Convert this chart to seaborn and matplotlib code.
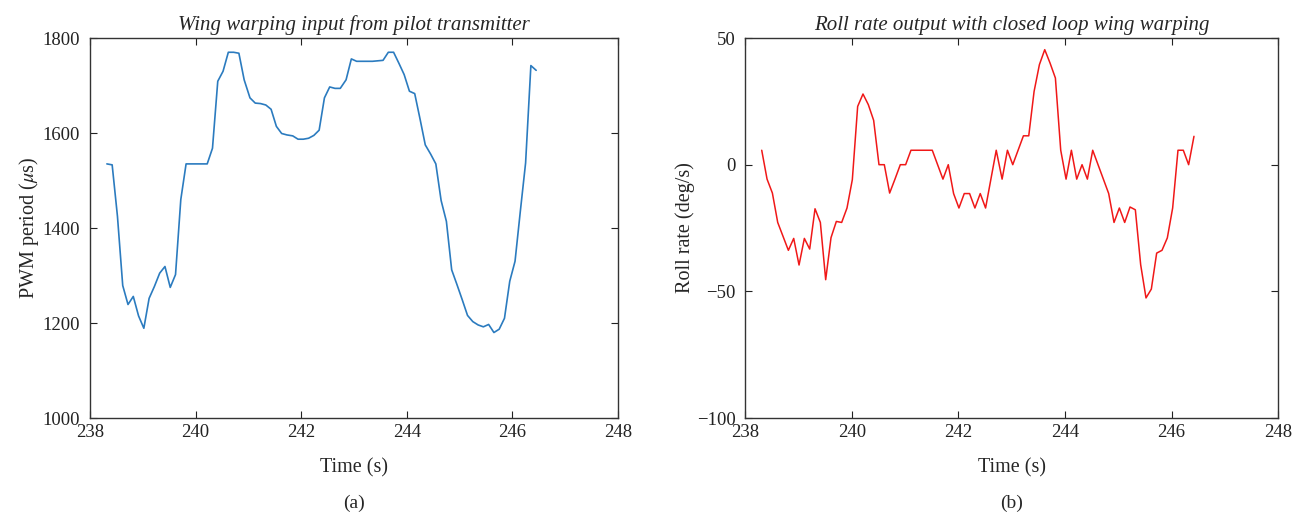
import matplotlib
matplotlib.use("Agg")
import matplotlib.pyplot as plt
import seaborn as sns
import pandas as pd

# Wing warping input (left panel)
time_a = [238.32, 238.42, 238.52, 238.62, 238.72, 238.82, 238.92, 239.02, 239.12, 239.22,
          239.32, 239.42, 239.52, 239.62, 239.72, 239.82, 239.92, 240.02, 240.12, 240.22,
          240.32, 240.42, 240.52, 240.62, 240.72, 240.82, 240.92, 241.03, 241.13, 241.23,
          241.33, 241.43, 241.53, 241.63, 241.73, 241.84, 241.94, 242.04, 242.14, 242.24,
          242.34, 242.44, 242.54, 242.64, 242.74, 242.85, 242.95, 243.05, 243.15, 243.25,
          243.35, 243.45, 243.55, 243.65, 243.75, 243.85, 243.95, 244.05, 244.15, 244.25,
          244.35, 244.45, 244.55, 244.65, 244.75, 244.85, 244.95, 245.05, 245.15, 245.25,
          245.35, 245.45, 245.55, 245.65, 245.75, 245.85, 245.95, 246.05, 246.15, 246.25,
          246.35, 246.45]
pwm = [1535, 1533, 1425, 1279, 1239, 1256, 1215, 1189, 1252, 1277,
       1305, 1319, 1275, 1302, 1460, 1535, 1535, 1535, 1535, 1535,
       1568, 1709, 1730, 1770, 1770, 1768, 1712, 1674, 1663, 1662,
       1659, 1650, 1614, 1599, 1596, 1594, 1587, 1587, 1589, 1595,
       1606, 1674, 1697, 1694, 1694, 1712, 1756, 1751, 1751, 1751,
       1751, 1752, 1753, 1770, 1770, 1747, 1723, 1688, 1683, 1630,
       1575, 1556, 1535, 1458, 1414, 1312, 1281, 1249, 1216, 1203,
       1196, 1192, 1197, 1180, 1187, 1210, 1288, 1330, 1435, 1537,
       1742, 1732]

# Roll rate output (right panel)
time_b = [238.31, 238.41, 238.51, 238.61, 238.71, 238.81, 238.91, 239.01, 239.11, 239.21,
          239.31, 239.41, 239.51, 239.61, 239.71, 239.81, 239.91, 240.01, 240.11, 240.21,
          240.31, 240.41, 240.51, 240.61, 240.71, 240.81, 240.91, 241.01, 241.11, 241.21,
          241.31, 241.41, 241.51, 241.61, 241.71, 241.81, 241.91, 242.01, 242.11, 242.21,
          242.31, 242.41, 242.51, 242.61, 242.71, 242.82, 242.92, 243.02, 243.12, 243.22,
          243.32, 243.42, 243.52, 243.62, 243.72, 243.82, 243.92, 244.02, 244.12, 244.22,
          244.32, 244.42, 244.52, 244.62, 244.72, 244.82, 244.92, 245.02, 245.12, 245.22,
          245.32, 245.42, 245.52, 245.62, 245.72, 245.82, 245.92, 246.02, 246.12, 246.22,
          246.32, 246.42]
roll = [5.7, -5.7, -11.2, -22.8, -28.3, -33.8, -29.1, -39.6, -29.1, -33.3,
        -17.4, -22.8, -45.4, -28.8, -22.4, -22.8, -17.1, -5.9, 23.0, 27.9,
        23.7, 17.5, 0, 0, -11.2, -5.7, 0, 0, 5.7, 5.7,
        5.7, 5.7, 5.7, 0, -5.7, 0, -11.4, -17.1, -11.4, -11.4,
        -17.1, -11.4, -17.1, -5.7, 5.7, -5.7, 5.7, 0, 5.7, 11.4,
        11.4, 28.9, 39.5, 45.4, 40.1, 34.2, 5.7, -5.7, 5.7, -5.7,
        0, -5.7, 5.7, 0, -5.7, -11.4, -22.8, -17.1, -22.8, -16.7,
        -17.8, -39.5, -52.6, -49.1, -34.9, -33.8, -28.9, -17.1, 5.7, 5.7,
        0, 11.2]

xticks = [238, 240, 242, 244, 246, 248]

sns.set_theme(style="white")
plt.rcParams["font.family"] = ["Liberation Serif", "DejaVu Serif"]
plt.rcParams["mathtext.fontset"] = "stix"
plt.rcParams["axes.unicode_minus"] = True

df_a = pd.DataFrame({"t": time_a, "v": pwm})
df_b = pd.DataFrame({"t": time_b, "v": roll})

fig = plt.figure(figsize=(13.06, 5.18), dpi=100)
ax1 = fig.add_axes([0.0689, 0.193, 0.4043, 0.7336])
ax2 = fig.add_axes([0.5706, 0.193, 0.4081, 0.7336])

sns.lineplot(data=df_a, x="t", y="v", ax=ax1, color="#2b7bbf", linewidth=1.2)
sns.lineplot(data=df_b, x="t", y="v", ax=ax2, color="#f01818", linewidth=1.1)

ax1.set_ylim(1000, 1800)
ax1.set_yticks([1000, 1200, 1400, 1600, 1800])
ax2.set_ylim(-100, 50)
ax2.set_yticks([-100, -50, 0, 50])

ax1.set_title("Wing warping input from pilot transmitter", fontstyle="italic", fontsize=15, pad=6)
ax2.set_title("Roll rate output with closed loop wing warping", fontstyle="italic", fontsize=15, pad=6)
ax1.set_ylabel(r"PWM period ($\mu$s)", fontsize=14.5, labelpad=1)
ax2.set_ylabel("Roll rate (deg/s)", fontsize=14.5, labelpad=1)

for ax, tag in [(ax1, "(a)"), (ax2, "(b)")]:
    ax.set_xlim(238, 248)
    ax.set_xticks(xticks)
    ax.set_xlabel("Time (s)", fontsize=14.5, labelpad=13)
    ax.tick_params(direction="in", length=5, width=0.8, top=True, right=True,
                   bottom=True, left=True, labelsize=13.5, colors="#222222")
    ax.tick_params(axis="y", pad=7)
    ax.tick_params(axis="x", pad=4)
    for s in ax.spines.values():
        s.set_color("#333333")
        s.set_linewidth(1.0)
    ax.text(0.5, -0.224, tag, transform=ax.transAxes, ha="center", va="center", fontsize=14)

fig.savefig("out.png", dpi=100)
